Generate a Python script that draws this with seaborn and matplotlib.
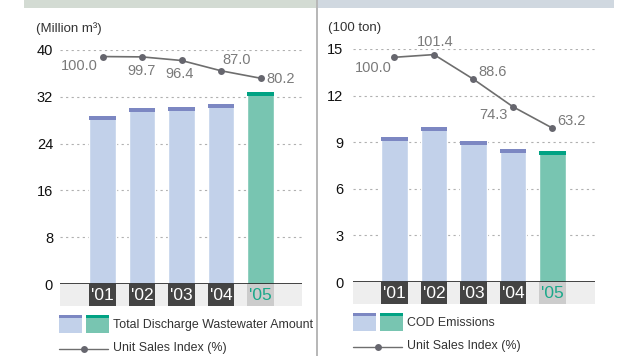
import matplotlib
matplotlib.use("Agg")
import matplotlib.pyplot as plt
import matplotlib.transforms as mtransforms
from matplotlib.patches import Rectangle
from matplotlib.lines import Line2D
import seaborn as sns
import pandas as pd

# ---- data ----
years = ["'01", "'02", "'03", "'04", "'05"]
wastewater = [28.8, 30.1, 30.3, 30.8, 32.9]          # million m3
wastewater_index = [100.0, 99.7, 96.4, 87.0, 80.2]    # unit sales index (%)
cod = [9.34, 9.98, 9.08, 8.56, 8.44]                  # 100 ton
cod_index = [100.0, 101.4, 88.6, 74.3, 63.2]          # unit sales index (%)

wastewater_ticks = [0, 8, 16, 24, 32, 40]
cod_ticks = [0, 3, 6, 9, 12, 15]

# ---- style ----
W, H = 624, 356
LIGHT, LIGHT_CAP = "#c2d1ea", "#7c87c2"
TEAL, TEAL_CAP = "#78c5b1", "#00a283"
LINE = "#6e6e6e"
LABEL = "#7a7a7a"
TEXT = "#333333"

sns.set_style("white")
plt.rcParams["font.family"] = ["Liberation Sans", "DejaVu Sans"]
NARROW = ["Liberation Sans Narrow", "DejaVu Sans Condensed", "Liberation Sans"]

fig = plt.figure(figsize=(W / 100, H / 100), dpi=100)


def fx(x):
    return x / W


def fy(y):
    return 1 - y / H


def box(x0, y0, x1, y1, color):
    fig.add_artist(Rectangle((fx(x0), fy(y1)), fx(x1) - fx(x0), fy(y0) - fy(y1),
                             transform=fig.transFigure, facecolor=color,
                             edgecolor="none", zorder=0))


# header bands and separator
box(24, 0, 316, 8, "#d3dbd3")
box(318, 0, 614, 8, "#d0d8e0")
box(316, 0, 318, H, "#b8b8b8")


def panel(left, right, top, bottom, values, index, ticks, ymax, twin_lim,
          cap_px, label_offsets, unit, unit_xy, tick_pad, xlim):
    ax = fig.add_axes([fx(left), fy(bottom), fx(right) - fx(left), fy(top) - fy(bottom)])
    df = pd.DataFrame({"year": years, "value": values})
    colors = [LIGHT] * (len(years) - 1) + [TEAL]
    caps = [LIGHT_CAP] * (len(years) - 1) + [TEAL_CAP]
    sns.barplot(data=df, x="year", y="value", hue="year", palette=colors,
                legend=False, width=0.68, saturation=1, ax=ax, zorder=2)
    cap_h = cap_px * ymax / (bottom - top)
    pos = list(range(len(years)))
    ax.bar(pos, [cap_h] * len(values), bottom=[v - cap_h for v in values],
           width=0.68, color=caps, zorder=3, linewidth=0)

    ax.set_ylim(0, ymax)
    ax.set_xlim(*xlim)
    ax.set_yticks(ticks)
    ax.set_yticklabels([str(t) for t in ticks], fontsize=10.5, color="#111111")
    ax.tick_params(axis="y", length=0, pad=tick_pad)
    ax.set_xticks([])
    ax.set_xlabel("")
    ax.set_ylabel("")
    for s in ax.spines.values():
        s.set_visible(False)
    ax.yaxis.grid(True, linestyle=(0, (2, 3)), color="#b0b0b0", linewidth=0.8)
    ax.set_axisbelow(True)
    ax.axhline(0, color="#222222", linewidth=1.2, zorder=4)

    # year strip under the axis
    strip = 22 / (bottom - top)
    trans = mtransforms.blended_transform_factory(ax.transData, ax.transAxes)
    ax.add_patch(Rectangle((xlim[0], -strip), xlim[1] - xlim[0], strip,
                           transform=trans, facecolor="#eeeeee", edgecolor="none",
                           clip_on=False, zorder=1))
    for i, y in enumerate(years):
        last = i == len(years) - 1
        ax.add_patch(Rectangle((i - 0.34, -strip), 0.68, strip, transform=trans,
                               facecolor="#cccccc" if last else "#444444",
                               edgecolor="none", clip_on=False, zorder=2))
        ax.text(i, -strip / 2, y, transform=trans, ha="center", va="center",
                fontsize=12.5, family=NARROW,
                color="#1aa88a" if last else "white", zorder=3)

    # unit sales index on its own scale
    ax2 = ax.twinx()
    sns.lineplot(x=pos, y=index, ax=ax2, color=LINE, linewidth=1.2, marker="o",
                 markersize=5, markeredgewidth=0, markerfacecolor="#66666e", zorder=5)
    ax2.set_ylim(*twin_lim)
    ax2.set_yticks([])
    for s in ax2.spines.values():
        s.set_visible(False)
    for i, v in enumerate(index):
        ha, dx, dy = label_offsets[i]
        ax2.annotate(f"{v:.1f}", (i, v), xytext=(dx * 0.72, dy * 0.72),
                     textcoords="offset points", ha=ha, va="center",
                     fontsize=10.5, color=LABEL)

    fig.text(fx(unit_xy[0]), fy(unit_xy[1]), unit, ha="left", va="center",
             fontsize=9.5, color=TEXT)
    return ax


panel(60, 302, 50, 284, wastewater, wastewater_index, wastewater_ticks, 40,
      (-108, 106), 4,
      [("right", -5, -9), ("center", 0, -14), ("center", -2, -14),
       ("left", 1, 11), ("left", 6, -0.5)],
      "(Million m³)", (36, 29), 5, (-1.076, 5.05))

panel(353, 595, 49, 282, cod, cod_index, cod_ticks, 15,
      (-16.7, 104.3), 4,
      [("right", -3, -11), ("center", 1, 13), ("left", 5, 7),
       ("right", -5, -8), ("left", 5, 7)],
      "(100 ton)", (328, 28), 7, (-1.05, 5.076))


def legend(x0, y0, label):
    # bar swatches with caps
    for xa, fill, cap in ((x0, LIGHT, LIGHT_CAP), (x0 + 27, TEAL, TEAL_CAP)):
        box(xa, y0, xa + 23, y0 + 18, fill)
        box(xa, y0, xa + 23, y0 + 3, cap)
    fig.text(fx(x0 + 54), fy(y0 + 10), label, ha="left", va="center",
             fontsize=8.9, color=TEXT)
    ly = y0 + 33.5
    fig.add_artist(Line2D([fx(x0), fx(x0 + 49)], [fy(ly), fy(ly)],
                          transform=fig.transFigure, color=LINE, linewidth=1))
    fig.add_artist(Line2D([fx(x0 + 25)], [fy(ly)], transform=fig.transFigure,
                          marker="o", markersize=5, markeredgewidth=0,
                          color="#66666e"))
    fig.text(fx(x0 + 54), fy(ly), "Unit Sales Index (%)", ha="left",
             va="center", fontsize=8.9, color=TEXT)


legend(59, 315, "Total Discharge Wastewater Amount")
legend(353, 313, "COD Emissions")

fig.savefig("out.png", dpi=100)
